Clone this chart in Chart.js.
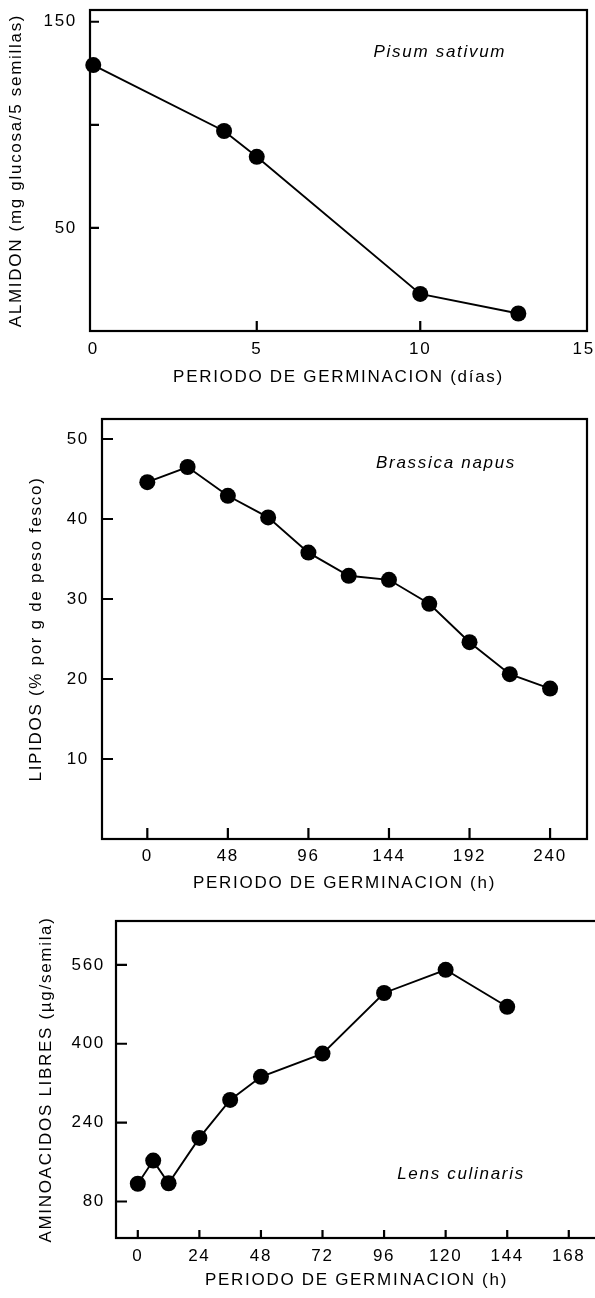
<!DOCTYPE html>
<html>
<head>
<meta charset="utf-8">
<title>Periodo de germinacion</title>
<script src="https://cdn.jsdelivr.net/npm/chart.js@4/dist/chart.umd.min.js"></script>
<style>
  html, body { margin: 0; padding: 0; background: #fff; overflow: hidden; }
  body { width: 595px; height: 1298px; position: relative; }
  .panel { position: absolute; left: 0; width: 595px; overflow: hidden; }
  canvas { display: block; }
</style>
</head>
<body>
<div class="panel" style="top:0;height:400px"><canvas id="starchChart" width="595" height="400"></canvas></div>
<div class="panel" style="top:400px;height:500px"><canvas id="lipidChart" width="595" height="500"></canvas></div>
<div class="panel" style="top:900px;height:398px"><canvas id="aminoChart" width="605" height="398"></canvas></div>
<script>
const FONT = "'Liberation Sans', Arial, Helvetica, sans-serif";

// Pisum sativum: almidón (mg glucosa / 5 semillas) vs días
const starchDays = [0, 4, 5, 10, 13];
const starchValues = [129, 97, 84.5, 18, 8.5];
const starchXTicks = [0, 5, 10, 15];
const starchYTicks = [50, 100, 150];
const starchYLabels = ["50", "", "150"];

// Brassica napus: lípidos (% por g de peso fresco) vs horas
const lipidHours = [0, 24, 48, 72, 96, 120, 144, 168, 192, 216, 240];
const lipidValues = [44.6, 46.5, 42.9, 40.2, 35.8, 32.9, 32.4, 29.4, 24.6, 20.6, 18.8];
const lipidXTicks = [0, 48, 96, 144, 192, 240];
const lipidYTicks = [10, 20, 30, 40, 50];

// Lens culinaris: aminoácidos libres (µg/semilla) vs horas
const aminoHours = [0, 6, 12, 24, 36, 48, 72, 96, 120, 144];
const aminoValues = [116, 163, 117, 209, 286, 333, 380, 503, 550, 475];
const aminoXTicks = [0, 24, 48, 72, 96, 120, 144, 168];
const aminoYTicks = [80, 240, 400, 560];

Chart.defaults.font.family = FONT;
Chart.defaults.font.size = 17;
Chart.defaults.color = "#000";

// Box around the plot, short inward ticks and the species name.
const framePlugin = {
  id: "frame",
  beforeDraw(chart) {
    chart.ctx.letterSpacing = "1.7px";
  },
  beforeDatasetsDraw(chart, args, opts) {
    const { ctx, chartArea: a, scales } = chart;
    ctx.save();
    ctx.strokeStyle = "#000";
    ctx.lineWidth = 2.2;
    ctx.strokeRect(a.left, a.top, a.right - a.left, a.bottom - a.top);

    // ticks sitting on the frame itself are not drawn again
    ctx.beginPath();
    scales.y.ticks.forEach((t) => {
      const py = scales.y.getPixelForValue(t.value);
      if (py - a.top < 5 || a.bottom - py < 5) return;
      ctx.moveTo(a.left, py);
      ctx.lineTo(a.left + opts.yTick, py);
    });
    scales.x.ticks.forEach((t) => {
      const px = scales.x.getPixelForValue(t.value);
      if (px - a.left < 5 || a.right - px < 5) return;
      ctx.moveTo(px, a.bottom);
      ctx.lineTo(px, a.bottom - opts.xTick);
    });
    ctx.stroke();

    ctx.font = "italic 17px " + FONT;
    ctx.fillStyle = "#000";
    ctx.textAlign = "center";
    ctx.textBaseline = "middle";
    ctx.fillText(
      opts.species,
      scales.x.getPixelForValue(opts.speciesAt[0]),
      scales.y.getPixelForValue(opts.speciesAt[1])
    );
    ctx.restore();
  },
};

function drawPanel(id, p) {
  const points = p.xs.map((x, i) => ({ x: x, y: p.ys[i] }));
  return new Chart(document.getElementById(id).getContext("2d"), {
    type: "line",
    data: {
      datasets: [
        {
          data: points,
          borderColor: "#000",
          borderWidth: 1.9,
          tension: 0,
          pointRadius: p.radius,
          pointBackgroundColor: "#000",
          pointBorderWidth: 0,
          clip: false,
        },
      ],
    },
    options: {
      responsive: false,
      animation: false,
      events: [],
      layout: { padding: p.padding },
      plugins: {
        legend: { display: false },
        tooltip: { enabled: false },
        frame: { xTick: p.xTickLen, yTick: p.yTickLen, species: p.species, speciesAt: p.speciesAt },
      },
      scales: {
        x: {
          type: "linear",
          min: p.xRange[0],
          max: p.xRange[1],
          grid: { display: false, drawTicks: false },
          border: { display: false },
          afterBuildTicks: (axis) => {
            axis.ticks = p.xTicks.map((v) => ({ value: v }));
          },
          afterFit: (axis) => {
            axis.height = p.xAxisHeight;
            axis.paddingLeft = 0;
            axis.paddingRight = 0;
          },
          ticks: {
            padding: p.xLabelPad,
            maxRotation: 0,
            autoSkip: false,
            callback: (v) => String(v),
          },
          title: {
            display: true,
            text: p.xTitle,
            padding: { top: 0, bottom: p.xTitlePad },
          },
        },
        y: {
          type: "linear",
          min: p.yRange[0],
          max: p.yRange[1],
          grid: { display: false, drawTicks: false },
          border: { display: false },
          afterBuildTicks: (axis) => {
            axis.ticks = p.yTicks.map((v) => ({ value: v }));
          },
          afterFit: (axis) => {
            axis.width = p.yAxisWidth;
            axis.paddingTop = 0;
            axis.paddingBottom = 0;
          },
          ticks: {
            padding: p.yLabelPad,
            autoSkip: false,
            callback: (v, i) => (p.yLabels ? p.yLabels[i] : String(v)),
          },
          title: {
            display: true,
            text: p.yTitle,
            padding: { top: p.yTitlePad, bottom: 0 },
          },
        },
      },
    },
    plugins: [framePlugin],
  });
}

drawPanel("starchChart", {
  xs: starchDays,
  ys: starchValues,
  xTicks: starchXTicks,
  yTicks: starchYTicks,
  yLabels: starchYLabels,
  xRange: [-0.1, 15.1],
  yRange: [0, 155.7],
  padding: { top: 10, right: 8, bottom: 0, left: 0 },
  yAxisWidth: 90,
  xAxisHeight: 69,
  xLabelPad: 7.8,
  yLabelPad: 13,
  xTitlePad: 12.8,
  yTitlePad: 6,
  xTickLen: 10,
  yTickLen: 9,
  radius: 8,
  xTitle: "PERIODO DE GERMINACION (días)",
  yTitle: "ALMIDON (mg glucosa/5 semillas)",
  species: "Pisum sativum",
  speciesAt: [10.6, 135],
});

drawPanel("lipidChart", {
  xs: lipidHours,
  ys: lipidValues,
  xTicks: lipidXTicks,
  yTicks: lipidYTicks,
  xRange: [-27, 262],
  yRange: [0, 52.5],
  padding: { top: 19, right: 3, bottom: 0, left: 0 },
  yAxisWidth: 102,
  xAxisHeight: 61,
  xLabelPad: 7.5,
  yLabelPad: 13,
  xTitlePad: 6.8,
  yTitlePad: 26,
  xTickLen: 11,
  yTickLen: 11,
  radius: 8,
  xTitle: "PERIODO DE GERMINACION (h)",
  yTitle: "LIPIDOS (% por g de peso fesco)",
  species: "Brassica napus",
  speciesAt: [178, 47],
});

drawPanel("aminoChart", {
  xs: aminoHours,
  ys: aminoValues,
  xTicks: aminoXTicks,
  yTicks: aminoYTicks,
  xRange: [-8.5, 179],
  yRange: [6, 649],
  padding: { top: 21, right: 5, bottom: 0, left: 0 },
  yAxisWidth: 116,
  xAxisHeight: 60,
  xLabelPad: 8,
  yLabelPad: 11,
  xTitlePad: 7.8,
  yTitlePad: 36.5,
  xTickLen: 8,
  yTickLen: 11,
  radius: 8,
  xTitle: "PERIODO DE GERMINACION (h)",
  yTitle: "AMINOACIDOS LIBRES (µg/semila)",
  species: "Lens culinaris",
  speciesAt: [126, 135],
});
</script>
</body>
</html>
